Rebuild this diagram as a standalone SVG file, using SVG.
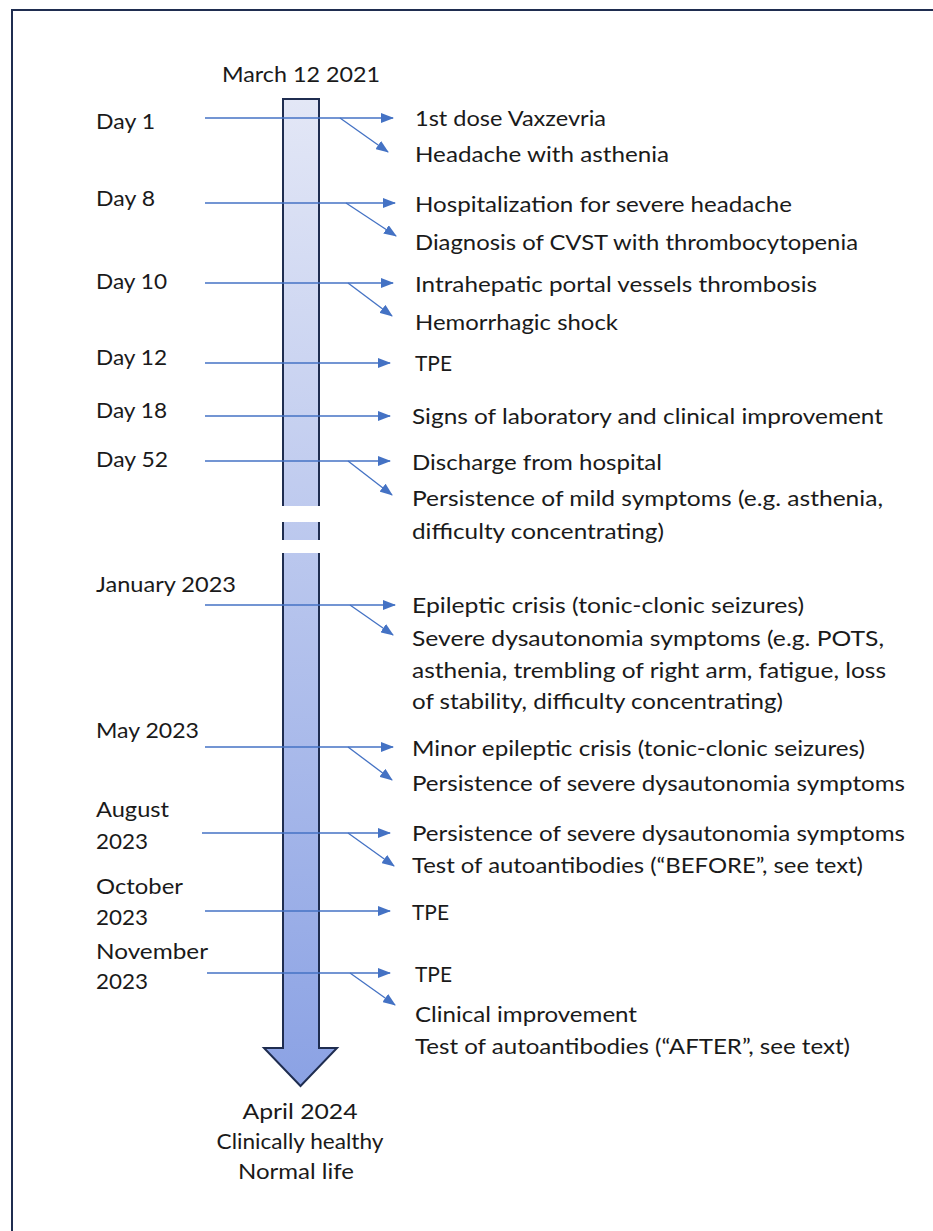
<svg xmlns="http://www.w3.org/2000/svg" width="933" height="1231" viewBox="0 0 933 1231">
<style>
.t{font-family:Lato,"Liberation Sans",sans-serif;font-size:22px;fill:#1a1a1a;dominant-baseline:central}
.m{text-anchor:middle}
.c{stroke:#4472c4;stroke-width:1.3;fill:none;marker-end:url(#ah)}
.bar{fill:url(#g);stroke:#1f2d50;stroke-width:2}
</style>
<defs>
<linearGradient id="g" gradientUnits="userSpaceOnUse" x1="0" y1="99" x2="0" y2="1086">
<stop offset="0" stop-color="#e3e7f6"/>
<stop offset="1" stop-color="#8ba2e4"/>
</linearGradient>
<marker id="ah" markerWidth="13" markerHeight="10" refX="12" refY="5" orient="auto" markerUnits="userSpaceOnUse">
<path d="M0,0 L13,5 L0,10 Z" fill="#4472c4"/>
</marker>
</defs>
<rect width="933" height="1231" fill="#fff"/>
<path d="M12,1231 L12,10 L933,10" fill="none" stroke="#1f2d50" stroke-width="2"/>
<g id="timeline">
<path class="bar" d="M283,506 L283,99 L319,99 L319,506"/>
<rect x="283" y="522" width="36" height="18" fill="url(#g)"/>
<path d="M283,522 L283,540 M319,522 L319,540" stroke="#1f2d50" stroke-width="2"/>
<path class="bar" d="M283,553 L283,1048 L264,1048 L300.5,1086 L337,1048 L319,1048 L319,553"/>
</g>
<g id="connectors">
<line class="c" x1="205" y1="118" x2="393" y2="118"/>
<line class="c" x1="340" y1="118" x2="388" y2="152"/>
<line class="c" x1="205" y1="203" x2="395" y2="203"/>
<line class="c" x1="346" y1="203" x2="396" y2="236"/>
<line class="c" x1="205" y1="283" x2="393" y2="283"/>
<line class="c" x1="348" y1="283" x2="392" y2="316"/>
<line class="c" x1="205" y1="363" x2="390" y2="363"/>
<line class="c" x1="205" y1="416" x2="390" y2="416"/>
<line class="c" x1="205" y1="461" x2="390" y2="461"/>
<line class="c" x1="348" y1="461" x2="392" y2="495"/>
<line class="c" x1="205" y1="605" x2="395" y2="605"/>
<line class="c" x1="350" y1="605" x2="393" y2="635"/>
<line class="c" x1="205" y1="747" x2="393" y2="747"/>
<line class="c" x1="348" y1="747" x2="392" y2="780"/>
<line class="c" x1="202" y1="833" x2="390" y2="833"/>
<line class="c" x1="348" y1="833" x2="394" y2="866"/>
<line class="c" x1="205" y1="911" x2="390" y2="911"/>
<line class="c" x1="207" y1="973" x2="390" y2="973"/>
<line class="c" x1="350" y1="973" x2="395" y2="1005"/>
</g>
<g id="start"><text class="t m" x="301" y="73" textLength="158" lengthAdjust="spacingAndGlyphs">March 12 2021</text></g>
<g id="end">
<text class="t m" x="300" y="1110" textLength="115" lengthAdjust="spacingAndGlyphs">April 2024</text>
<text class="t m" x="300" y="1140" textLength="167" lengthAdjust="spacingAndGlyphs">Clinically healthy</text>
<text class="t m" x="296" y="1170" textLength="116" lengthAdjust="spacingAndGlyphs">Normal life</text>
</g>
<g id="day1"><text class="t" x="96" y="120" textLength="59" lengthAdjust="spacingAndGlyphs">Day 1</text>
<text class="t" x="415" y="117" textLength="191" lengthAdjust="spacingAndGlyphs">1st dose Vaxzevria</text>
<text class="t" x="415" y="153" textLength="254" lengthAdjust="spacingAndGlyphs">Headache with asthenia</text></g>
<g id="day8"><text class="t" x="96" y="197" textLength="59" lengthAdjust="spacingAndGlyphs">Day 8</text>
<text class="t" x="415" y="203" textLength="377" lengthAdjust="spacingAndGlyphs">Hospitalization for severe headache</text>
<text class="t" x="415" y="241" textLength="443" lengthAdjust="spacingAndGlyphs">Diagnosis of CVST with thrombocytopenia</text></g>
<g id="day10"><text class="t" x="96" y="280" textLength="71" lengthAdjust="spacingAndGlyphs">Day 10</text>
<text class="t" x="415" y="283" textLength="402" lengthAdjust="spacingAndGlyphs">Intrahepatic portal vessels thrombosis</text>
<text class="t" x="415" y="321" textLength="203" lengthAdjust="spacingAndGlyphs">Hemorrhagic shock</text></g>
<g id="day12"><text class="t" x="96" y="356" textLength="71" lengthAdjust="spacingAndGlyphs">Day 12</text>
<text class="t" x="415" y="362" textLength="37" lengthAdjust="spacingAndGlyphs">TPE</text></g>
<g id="day18"><text class="t" x="96" y="409" textLength="71" lengthAdjust="spacingAndGlyphs">Day 18</text>
<text class="t" x="412" y="415" textLength="471" lengthAdjust="spacingAndGlyphs">Signs of laboratory and clinical improvement</text></g>
<g id="day52"><text class="t" x="96" y="458" textLength="72" lengthAdjust="spacingAndGlyphs">Day 52</text>
<text class="t" x="412" y="461" textLength="250" lengthAdjust="spacingAndGlyphs">Discharge from hospital</text>
<text class="t" x="412" y="497" textLength="471" lengthAdjust="spacingAndGlyphs">Persistence of mild symptoms (e.g. asthenia,</text>
<text class="t" x="412" y="530" textLength="252" lengthAdjust="spacingAndGlyphs">difficulty concentrating)</text></g>
<g id="jan2023"><text class="t" x="96" y="583" textLength="140" lengthAdjust="spacingAndGlyphs">January 2023</text>
<text class="t" x="412" y="604" textLength="392" lengthAdjust="spacingAndGlyphs">Epileptic crisis (tonic-clonic seizures)</text>
<text class="t" x="412" y="637" textLength="472" lengthAdjust="spacingAndGlyphs">Severe dysautonomia symptoms (e.g. POTS,</text>
<text class="t" x="412" y="669" textLength="474" lengthAdjust="spacingAndGlyphs">asthenia, trembling of right arm, fatigue, loss</text>
<text class="t" x="412" y="700" textLength="371" lengthAdjust="spacingAndGlyphs">of stability, difficulty concentrating)</text></g>
<g id="may2023"><text class="t" x="96" y="729" textLength="103" lengthAdjust="spacingAndGlyphs">May 2023</text>
<text class="t" x="412" y="747" textLength="453" lengthAdjust="spacingAndGlyphs">Minor epileptic crisis (tonic-clonic seizures)</text>
<text class="t" x="412" y="782" textLength="493" lengthAdjust="spacingAndGlyphs">Persistence of severe dysautonomia symptoms</text></g>
<g id="aug2023"><text class="t" x="96" y="808" textLength="73" lengthAdjust="spacingAndGlyphs">August</text><text class="t" x="96" y="840" textLength="52" lengthAdjust="spacingAndGlyphs">2023</text>
<text class="t" x="412" y="832" textLength="493" lengthAdjust="spacingAndGlyphs">Persistence of severe dysautonomia symptoms</text>
<text class="t" x="412" y="864" textLength="451" lengthAdjust="spacingAndGlyphs">Test of autoantibodies (“BEFORE”, see text)</text></g>
<g id="oct2023"><text class="t" x="96" y="885" textLength="87" lengthAdjust="spacingAndGlyphs">October</text><text class="t" x="96" y="916" textLength="52" lengthAdjust="spacingAndGlyphs">2023</text>
<text class="t" x="412" y="911" textLength="37" lengthAdjust="spacingAndGlyphs">TPE</text></g>
<g id="nov2023"><text class="t" x="96" y="950" textLength="112" lengthAdjust="spacingAndGlyphs">November</text><text class="t" x="96" y="980" textLength="52" lengthAdjust="spacingAndGlyphs">2023</text>
<text class="t" x="415" y="973" textLength="37" lengthAdjust="spacingAndGlyphs">TPE</text>
<text class="t" x="415" y="1013" textLength="222" lengthAdjust="spacingAndGlyphs">Clinical improvement</text>
<text class="t" x="415" y="1045" textLength="435" lengthAdjust="spacingAndGlyphs">Test of autoantibodies (“AFTER”, see text)</text></g>
</svg>
